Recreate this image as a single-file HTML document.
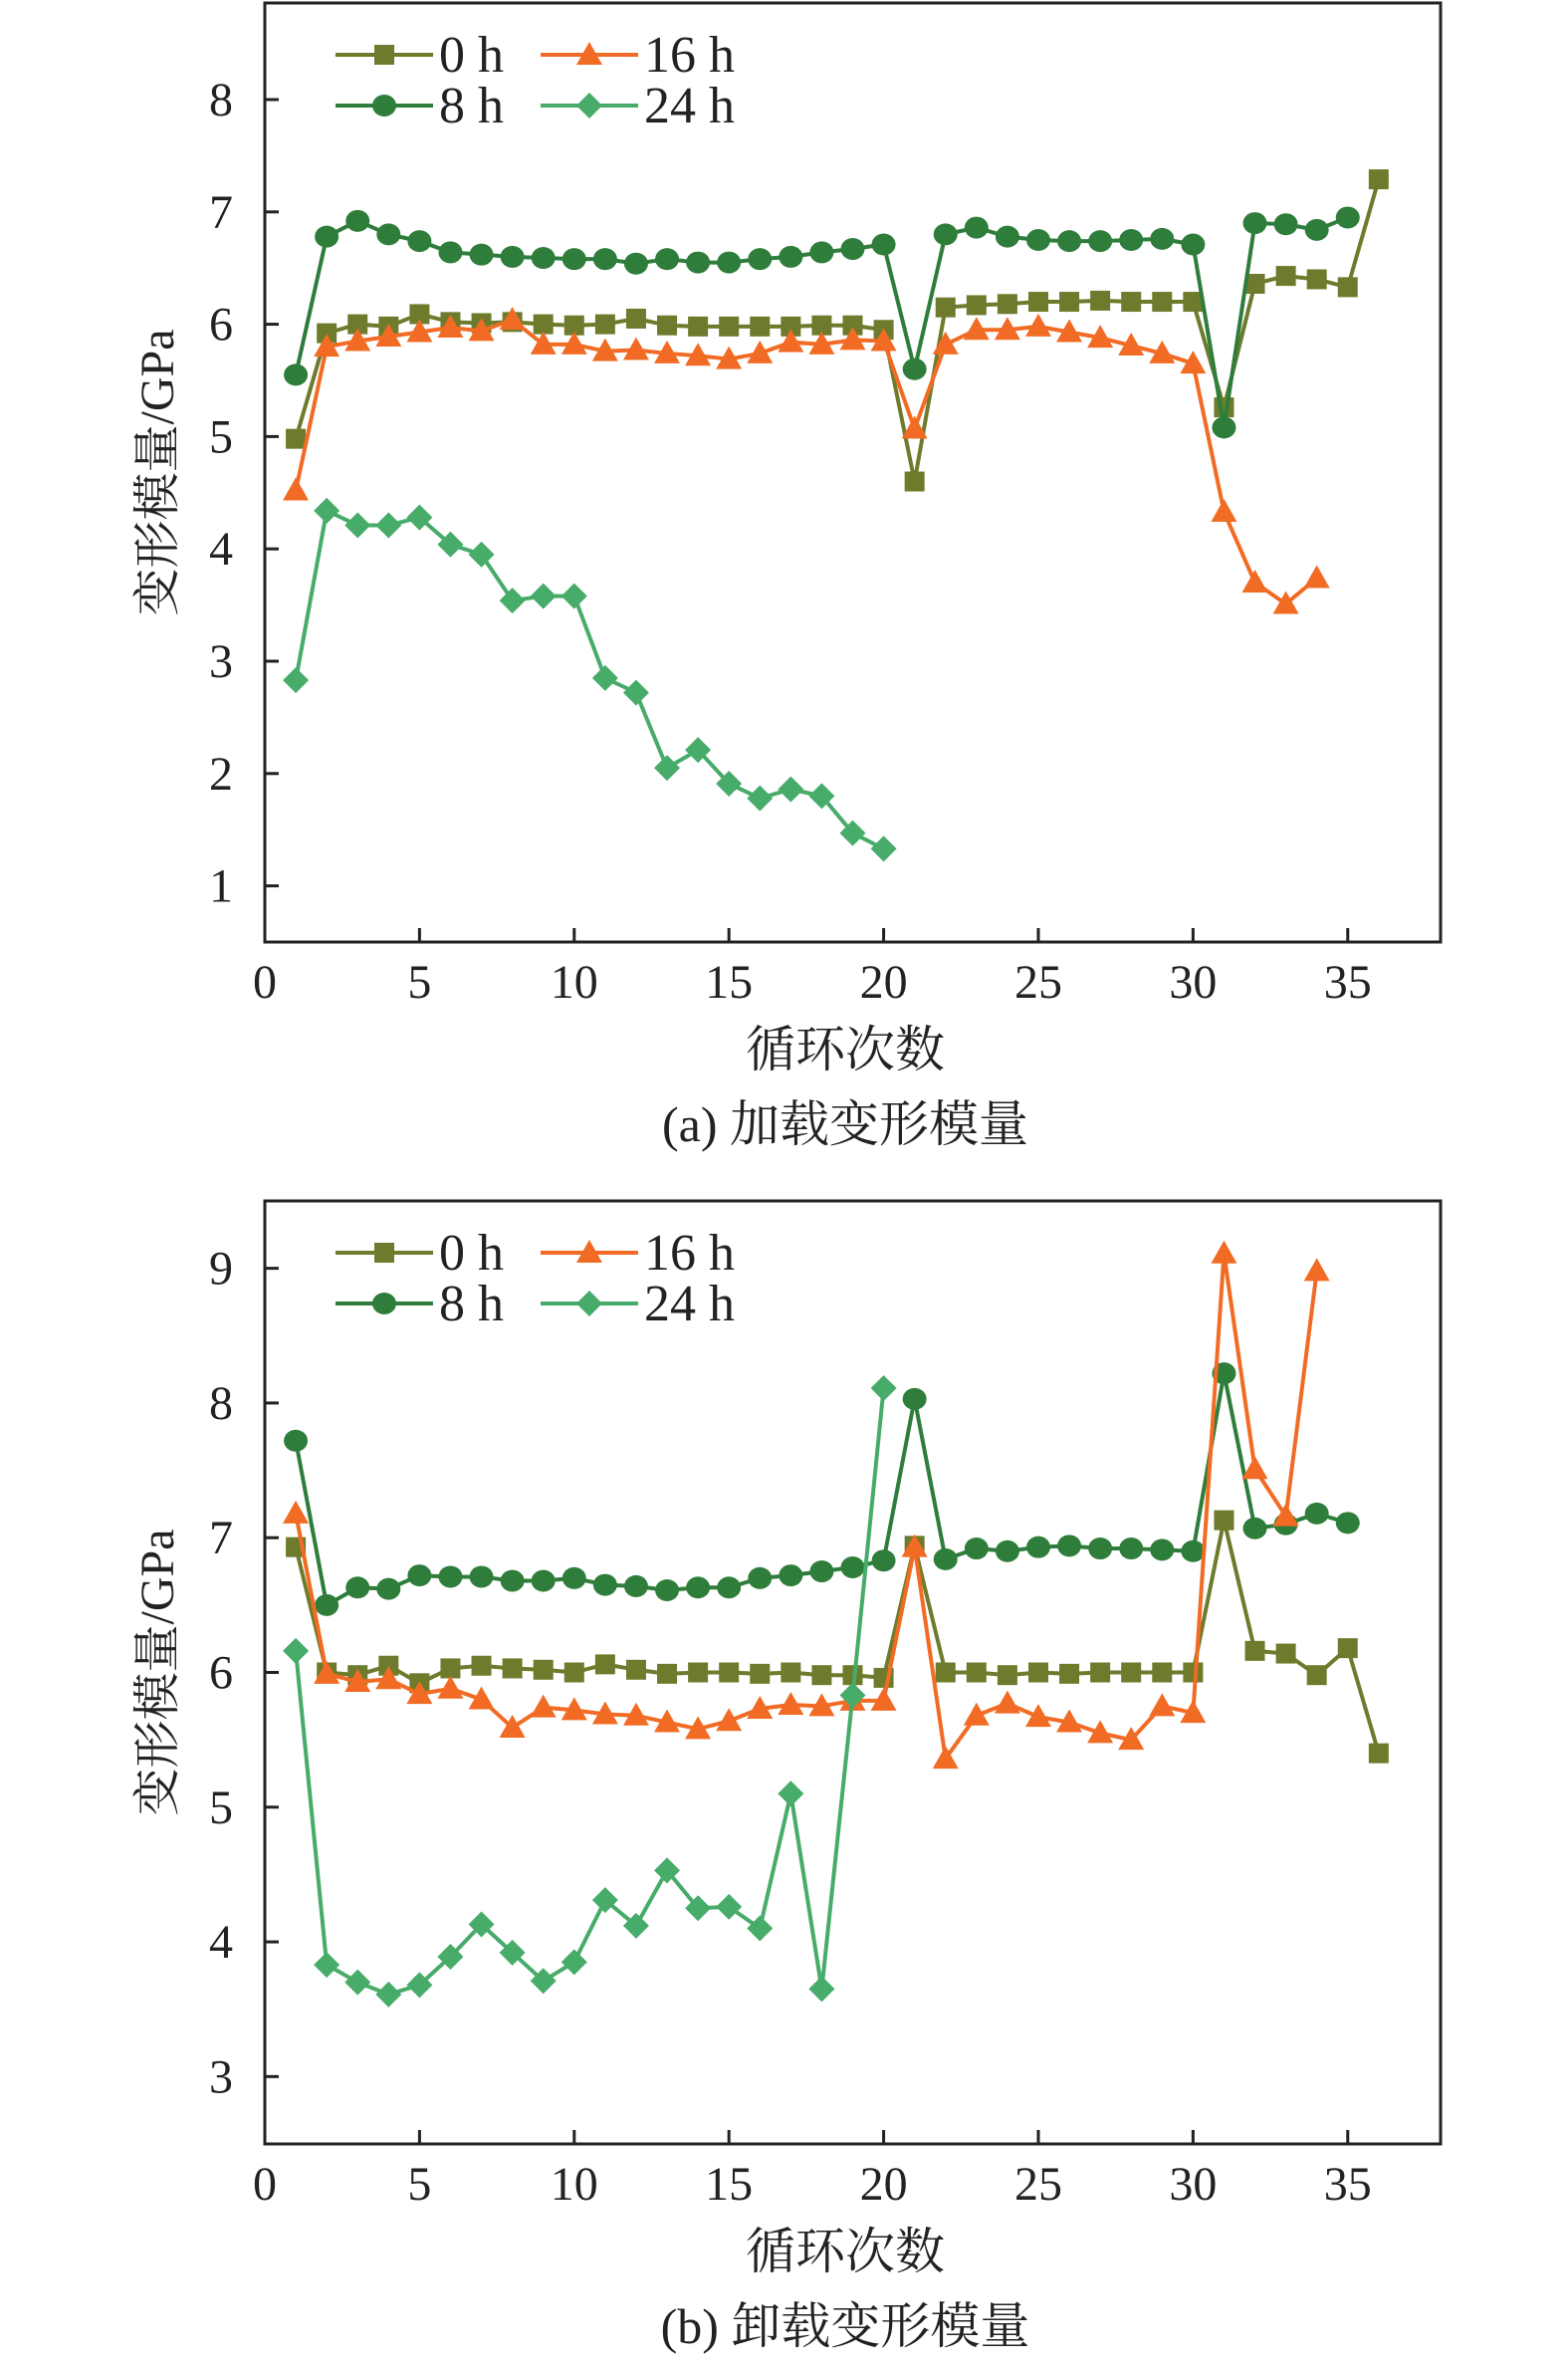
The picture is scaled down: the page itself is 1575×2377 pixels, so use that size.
<!DOCTYPE html>
<html><head><meta charset="utf-8"><style>
html,body{margin:0;padding:0;background:#fff}
svg{display:block}
text{font-family:"Liberation Serif","Noto Serif CJK SC","Noto Sans CJK SC",serif;fill:#222}
</style></head><body>
<svg id="fig" width="1575" height="2377" viewBox="0 0 1575 2377" xmlns="http://www.w3.org/2000/svg"></svg>
<script>
const cyclesX = [0,5,10,15,20,25,30,35];
const seriesNames = ["0 h","8 h","16 h","24 h"];
// Panel (a) loading modulus
const a0h = [4.98,5.92,6.0,5.98,6.09,6.02,6.01,6.02,6.0,5.99,6.0,6.05,5.99,5.98,5.98,5.98,5.98,5.99,5.99,5.95,4.6,6.15,6.17,6.18,6.2,6.2,6.21,6.2,6.2,6.2,5.26,6.36,6.43,6.4,6.33,7.29];
const a8h = [5.55,6.78,6.92,6.8,6.74,6.64,6.62,6.6,6.59,6.58,6.58,6.54,6.58,6.55,6.55,6.58,6.6,6.64,6.67,6.71,5.6,6.8,6.86,6.78,6.75,6.74,6.74,6.75,6.76,6.71,5.08,6.9,6.89,6.84,6.95];
const a16h = [4.52,5.8,5.85,5.89,5.93,5.97,5.94,6.04,5.82,5.82,5.76,5.77,5.74,5.72,5.69,5.74,5.84,5.82,5.86,5.85,5.07,5.82,5.95,5.95,5.98,5.93,5.88,5.81,5.74,5.65,4.33,3.7,3.51,3.74];
const a24h = [2.83,4.34,4.21,4.21,4.28,4.04,3.95,3.54,3.58,3.58,2.85,2.72,2.05,2.21,1.91,1.78,1.86,1.8,1.47,1.33];
const aTicksY = [1,2,3,4,5,6,7,8];
// Panel (b) unloading modulus
const b0h = [6.93,6.0,5.98,6.05,5.92,6.03,6.05,6.03,6.02,6.0,6.06,6.02,5.99,6.0,6.0,5.99,6.0,5.98,5.98,5.96,6.94,6.0,6.0,5.98,6.0,5.99,6.0,6.0,6.0,6.0,7.13,6.16,6.14,5.98,6.18,5.4];
const b8h = [7.72,6.5,6.63,6.62,6.72,6.71,6.71,6.68,6.68,6.7,6.65,6.64,6.61,6.63,6.63,6.7,6.72,6.75,6.78,6.83,8.03,6.84,6.92,6.9,6.93,6.94,6.92,6.92,6.91,6.9,8.22,7.07,7.1,7.18,7.11];
const b16h = [7.18,5.99,5.93,5.95,5.84,5.88,5.8,5.59,5.74,5.72,5.69,5.68,5.63,5.58,5.64,5.73,5.76,5.75,5.79,5.79,6.93,5.36,5.68,5.77,5.67,5.63,5.55,5.5,5.75,5.7,9.11,7.51,7.16,8.98];
const b24h = [6.16,3.83,3.7,3.61,3.68,3.89,4.13,3.92,3.71,3.85,4.31,4.12,4.53,4.25,4.26,4.1,5.1,3.65,5.83,8.11];
const bTicksY = [3,4,5,6,7,8,9];

const COLORS = ["#6e7b2c","#2f7d3b","#f26b24","#47ab6a"];
const MARK = ["square","circle","triangle","diamond"];
const NS = "http://www.w3.org/2000/svg";
const svg = document.getElementById("fig");
function el(tag, attrs, parent){const e=document.createElementNS(NS,tag);for(const k in attrs)e.setAttribute(k,attrs[k]);(parent||svg).appendChild(e);return e;}

function marker(g,type,x,y,c){
  let m;
  if(type==="square") m=el("rect",{x:x-10,y:y-10,width:20,height:20,fill:c},g);
  else if(type==="circle") m=el("ellipse",{cx:x,cy:y,rx:12,ry:11,fill:c},g);
  else if(type==="triangle") m=el("polygon",{points:`${x},${y-13} ${x+13},${y+10} ${x-13},${y+10}`,fill:c},g);
  else m=el("polygon",{points:`${x},${y-13} ${x+13},${y} ${x},${y+13} ${x-13},${y}`,fill:c},g);
  
  
}

function panel(cfg){
  const {top,bottom,ymin,ymax,ticksY,data,tag,caption} = cfg;
  const L=266,R=1447,xmax=38;
  const X=v=>L+(R-L)*v/xmax;
  const Y=v=>bottom-(bottom-top)*(v-ymin)/(ymax-ymin);
  const g=el("g",{});
  
  
  const box=el("rect",{x:L,y:top,width:R-L,height:bottom-top,fill:"none",stroke:"#222","stroke-width":3},g);
  
  
  ticksY.forEach(t=>{
    const y=Y(t);
    const tk=el("line",{x1:L,x2:L+14,y1:y,y2:y,stroke:"#222","stroke-width":3},g);
    
    
    const tx=el("text",{x:234,y:y+16,"text-anchor":"end","font-size":48},g);
    tx.textContent=t;
    
    
  });
  cyclesX.forEach(t=>{
    const x=X(t);
    if(t>0){const tk=el("line",{x1:x,x2:x,y1:bottom,y2:bottom-14,stroke:"#222","stroke-width":3},g);
      
      }
    const tx=el("text",{x:x,y:bottom+56,"text-anchor":"middle","font-size":48},g);
    tx.textContent=t;
    
    
  });
  data.forEach((arr,i)=>{
    const s=el("g",{},g);
    
    
    const pts=arr.map((v,j)=>X(j+1)+","+Y(v)).join(" ");
    el("polyline",{points:pts,fill:"none",stroke:COLORS[i],"stroke-width":4,"stroke-linejoin":"round"},s);
    arr.forEach((v,j)=>marker(s,MARK[i],X(j+1),Y(v),COLORS[i]));
  });
  const lg=el("g",{},g);
  
  
  const pos=[[337,top+52],[337,top+103],[543,top+52],[543,top+103]];
  seriesNames.forEach((n,i)=>{
    const [x,y]=pos[i];
    const e=el("g",{},lg);
    
    
    el("line",{x1:x,x2:x+98,y1:y,y2:y,stroke:COLORS[i],"stroke-width":4},e);
    marker(e,MARK[i],x+49,y,COLORS[i]);
    const tx=el("text",{x:x+104,y:y+17,"font-size":52},e);
    tx.textContent=n;
  });
  const yl=el("text",{transform:`translate(174,${(top+bottom)/2}) rotate(-90)`,"text-anchor":"middle","font-size":48},g);
  yl.textContent="变形模量/GPa";
  
  
  const xl=el("text",{x:849,y:bottom+125,"text-anchor":"middle","font-size":50},g);
  xl.textContent="循环次数";
  
  
  const cp=el("text",{x:849,y:bottom+200,"text-anchor":"middle","font-size":50},g);
  cp.textContent=caption;
  
  
}
panel({top:3,bottom:946,ymin:0.5,ymax:8.86,ticksY:aTicksY,data:[a0h,a8h,a16h,a24h],tag:"a",caption:"(a) 加载变形模量"});
panel({top:1206,bottom:2153,ymin:2.5,ymax:9.5,ticksY:bTicksY,data:[b0h,b8h,b16h,b24h],tag:"b",caption:"(b) 卸载变形模量"});
</script>
</body></html>
